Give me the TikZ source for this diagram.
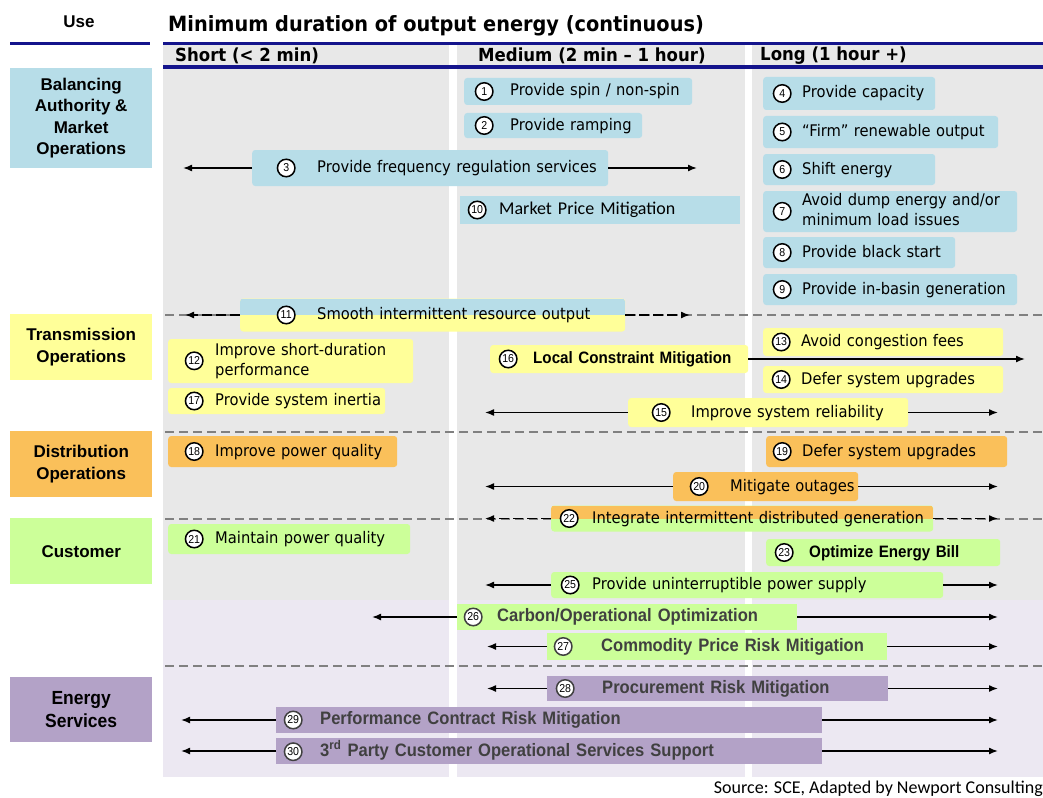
\documentclass[tikz,border=0pt]{standalone}
\usepackage{fontspec}
\setmainfont{Liberation Sans}
\newfontfamily\tahoma[FakeStretch=0.92]{DejaVu Sans}
\newfontfamily\narrowsans[FakeStretch=0.92]{Liberation Sans}
\newfontfamily\calib{Carlito}
\usepackage{tikz}
\usetikzlibrary{arrows.meta}

\definecolor{navy}{RGB}{20,20,140}
\definecolor{bablue}{RGB}{183,221,232}
\definecolor{tryellow}{RGB}{255,255,153}
\definecolor{diorange}{RGB}{250,192,90}
\definecolor{cugreen}{RGB}{204,255,153}
\definecolor{espurple}{RGB}{179,162,199}
\definecolor{bggrey}{RGB}{232,232,232}
\definecolor{bglav}{RGB}{236,232,242}
\definecolor{sepgrey}{RGB}{128,128,128}
\definecolor{darktext}{RGB}{64,64,64}

% circled number: left pad, number, gap
\newcommand{\cnum}[3]{\hspace*{#1pt}\tikz[baseline={([yshift=-4.5pt]c.center)}]\node[circle,draw,fill=white,line width=1.5pt,inner sep=0pt,minimum size=17.5pt,text=black,font=\narrowsans\mdseries\fontsize{11.5}{11.5}\selectfont] (c) {#2};\hspace{#3pt}}

\begin{document}
\begin{tikzpicture}[x=1pt, y=-1pt,
    cat/.style={fill=#1, anchor=north west, minimum width=142pt, align=center, font=\bfseries\fontsize{17}{21.5}\selectfont},
    itm/.style={fill=#1, rounded corners=3pt, anchor=west, inner xsep=0pt, inner ysep=0pt, align=left, font=\tahoma\fontsize{16}{20}\selectfont},
    split/.style={path picture={\fill[#1, sharp corners] (path picture bounding box.north west) rectangle (path picture bounding box.east);}},
    bold/.style={sharp corners, text=darktext, font=\narrowsans\bfseries\fontsize{18}{20}\selectfont},
    arr/.style={line width=1.5pt, -{Latex[length=9pt,width=7pt]}},
    darr/.style={arr, dash pattern=on 10pt off 4pt},
    sep/.style={sepgrey, line width=2pt, dash pattern=on 9pt off 5pt}]
    \useasboundingbox (0,0) rectangle (1043,797);

    % background and columns
    \fill[bggrey] (163,45) rectangle (1043,600);
    \fill[bglav] (163,600) rectangle (1043,777);
    \fill[white] (449,45) rectangle (457,777);
    \fill[white] (745,45) rectangle (752,777);
    \draw[navy, line width=3pt] (10,44) -- (150,44);
    \draw[navy, line width=3pt] (163,43.5) -- (1043,43.5);
    \draw[navy, line width=4pt] (163,67.5) -- (1043,67.5);
    \foreach \y in {315,432,518.5,666}
        \draw[sep] (165,\y) -- (1043,\y);

    % headings
    \node[font=\bfseries\fontsize{17}{20}\selectfont] (use) at (79,22) {Use};
    \node[anchor=west, inner sep=0pt, font=\tahoma\bfseries\fontsize{21}{24}\selectfont] (title) at (168,26) {Minimum duration of output energy (continuous)};
    \node[anchor=west, inner sep=0pt, font=\tahoma\bfseries\fontsize{18}{20}\selectfont] (short) at (175,56) {Short (< 2 min)};
    \node[anchor=west, inner sep=0pt, font=\tahoma\bfseries\fontsize{18}{20}\selectfont] (medium) at (478,56) {Medium (2 min – 1 hour)};
    \node[anchor=west, inner sep=0pt, font=\tahoma\bfseries\fontsize{18}{20}\selectfont] (long) at (760,56) {Long (1 hour +)};

    % uses
    \node[cat=bablue, minimum height=100pt] (ba) at (10,68) {Balancing\\Authority \&\\Market\\Operations};
    \node[cat=tryellow, minimum height=66pt] (tr) at (10,314) {Transmission\\Operations};
    \node[cat=diorange, minimum height=66pt] (di) at (10,431) {Distribution\\Operations};
    \node[cat=cugreen, minimum height=66pt] (cu) at (10,518) {Customer};
    \node[cat=espurple, minimum height=65pt, font=\narrowsans\bfseries\fontsize{19}{23}\selectfont] (es) at (10,677) {Energy\\Services};

    % balancing authority
    \node[itm=bablue, text width=228pt, minimum height=27pt] (i1) at (464,91.5) {\cnum{10.5}{1}{16.5}Provide spin / non-spin};
    \node[itm=bablue, text width=178pt, minimum height=25pt] (i2) at (464,125.5) {\cnum{10.5}{2}{16.5}Provide ramping};
    \node[itm=bablue, text width=356pt, minimum height=36pt] (i3) at (252,168) {\cnum{24.5}{3}{21.5}Provide frequency regulation services};
    \node[itm=bablue, text width=280pt, minimum height=28pt, sharp corners, font=\calib\fontsize{18}{20}\selectfont] (i10) at (460,210) {\cnum{7.5}{10}{12.5}Market Price Mitigation};
    \node[itm=bablue, text width=172pt, minimum height=33pt] (i4) at (763,93.5) {\cnum{9.5}{4}{10.5}Provide capacity};
    \node[itm=bablue, text width=235pt, minimum height=32pt] (i5) at (763,132) {\cnum{9.5}{5}{10.5}“Firm” renewable output};
    \node[itm=bablue, text width=172pt, minimum height=31pt] (i6) at (763,169.5) {\cnum{9.5}{6}{10.5}Shift energy};
    \node[itm=bablue, text width=254pt, minimum height=41pt] (i7) at (763,211.5) {\cnum{9.5}{7}{10.5}\begin{tabular}[c]{@{}l@{}}Avoid dump energy and/or\\minimum load issues\end{tabular}};
    \node[itm=bablue, text width=192pt, minimum height=31pt] (i8) at (763,252.5) {\cnum{9.5}{8}{10.5}Provide black start};
    \node[itm=bablue, text width=254pt, minimum height=31pt] (i9) at (763,289.5) {\cnum{9.5}{9}{10.5}Provide in-basin generation};
    \node[itm=tryellow, split=bablue, text width=385pt, minimum height=33pt] (i11) at (240,315) {\cnum{36.5}{11}{21.5}Smooth intermittent resource output};

    % transmission
    \node[itm=tryellow, text width=245pt, minimum height=44pt] (i12) at (168,361) {\cnum{16.5}{12}{11.5}\begin{tabular}[c]{@{}l@{}}Improve short-duration\\performance\end{tabular}};
    \node[itm=tryellow, text width=217pt, minimum height=26pt] (i17) at (168,401) {\cnum{16.5}{17}{11.5}Provide system inertia};
    \node[itm=tryellow, text width=258pt, minimum height=28pt, font=\narrowsans\bfseries\fontsize{16.5}{18}\selectfont] (i16) at (490,359) {\cnum{8.5}{16}{15.5}Local Constraint Mitigation};
    \node[itm=tryellow, text width=240pt, minimum height=28pt] (i13) at (763,342) {\cnum{8.5}{13}{10.5}Avoid congestion fees};
    \node[itm=tryellow, text width=240pt, minimum height=27pt] (i14) at (763,379.5) {\cnum{8.5}{14}{10.5}Defer system upgrades};
    \node[itm=tryellow, text width=280pt, minimum height=29pt] (i15) at (628,412.5) {\cnum{23.5}{15}{20.5}Improve system reliability};

    % distribution
    \node[itm=diorange, text width=229pt, minimum height=31pt] (i18) at (168,451.5) {\cnum{16.5}{18}{11.5}Improve power quality};
    \node[itm=diorange, text width=241pt, minimum height=31pt] (i19) at (766,451.5) {\cnum{6.5}{19}{10.5}Defer system upgrades};
    \node[itm=diorange, text width=185pt, minimum height=29pt] (i20) at (673,486.5) {\cnum{16.5}{20}{21.5}Mitigate outages};
    \node[itm=cugreen, split=diorange, text width=382pt, minimum height=26pt] (i22) at (551,518.5) {\cnum{8.5}{22}{13.5}Integrate intermittent distributed generation};

    % customer
    \node[itm=cugreen, text width=242pt, minimum height=30pt] (i21) at (168,539) {\cnum{16.5}{21}{11.5}Maintain power quality};
    \node[itm=cugreen, text width=234pt, minimum height=27pt, font=\narrowsans\bfseries\fontsize{16.5}{18}\selectfont] (i23) at (766,552.5) {\cnum{8.5}{23}{15.5}Optimize Energy Bill};
    \node[itm=cugreen, text width=392pt, minimum height=26pt] (i25) at (551,585) {\cnum{9.5}{25}{12.5}Provide uninterruptible power supply};
    \node[itm=cugreen, bold, text width=340pt, minimum height=26pt] (i26) at (457,617) {\cnum{6.5}{26}{14.5}Carbon/Operational Optimization};
    \node[itm=cugreen, bold, text width=340pt, minimum height=27pt] (i27) at (547,646.5) {\cnum{6.5}{27}{28.5}Commodity Price Risk Mitigation};

    % energy services
    \node[itm=espurple, bold, text width=341pt, minimum height=25pt] (i28) at (547,688.5) {\cnum{8.5}{28}{27.5}Procurement Risk Mitigation};
    \node[itm=espurple, bold, text width=546pt, minimum height=26pt] (i29) at (276,720) {\cnum{7.5}{29}{17.5}Performance Contract Risk Mitigation};
    \node[itm=espurple, bold, text width=546pt, minimum height=26pt] (i30) at (276,751) {\cnum{7.5}{30}{17.5}3\textsuperscript{rd} Party Customer Operational Services Support};

    \node[anchor=east, inner sep=0pt, font=\calib\fontsize{18}{20}\selectfont] (src) at (1043,789) {Source: SCE, Adapted by Newport Consulting};

    % arrow ends
    \coordinate (a3l) at (183,168);   \coordinate (a3r) at (697,168);
    \coordinate (a11l) at (185,315);  \coordinate (a11r) at (690,315);
    \coordinate (a16r) at (1025,359);
    \coordinate (a15l) at (485,412.5); \coordinate (a15r) at (998,412.5);
    \coordinate (a20l) at (485,486.5); \coordinate (a20r) at (998,486.5);
    \coordinate (a22l) at (485,518.5); \coordinate (a22r) at (998,518.5);
    \coordinate (a25l) at (485,585);   \coordinate (a25r) at (998,585);
    \coordinate (a26l) at (372,617);   \coordinate (a26r) at (998,617);
    \coordinate (a27l) at (487,646.5); \coordinate (a27r) at (998,646.5);
    \coordinate (a28l) at (487,688.5); \coordinate (a28r) at (998,688.5);
    \coordinate (a29l) at (181,720);   \coordinate (a29r) at (998,720);
    \coordinate (a30l) at (181,751);   \coordinate (a30r) at (998,751);

    \draw[arr] (i3) -- (a3l);   \draw[arr] (i3) -- (a3r);
    \draw[darr] (i11) -- (a11l); \draw[darr] (i11) -- (a11r);
    \draw[arr] (i16) -- (a16r);
    \draw[arr] (i15) -- (a15l); \draw[arr] (i15) -- (a15r);
    \draw[arr] (i20) -- (a20l); \draw[arr] (i20) -- (a20r);
    \draw[darr] (i22) -- (a22l); \draw[darr] (i22) -- (a22r);
    \draw[arr] (i25) -- (a25l); \draw[arr] (i25) -- (a25r);
    \draw[arr] (i26) -- (a26l); \draw[arr] (i26) -- (a26r);
    \draw[arr] (i27) -- (a27l); \draw[arr] (i27) -- (a27r);
    \draw[arr] (i28) -- (a28l); \draw[arr] (i28) -- (a28r);
    \draw[arr] (i29) -- (a29l); \draw[arr] (i29) -- (a29r);
    \draw[arr] (i30) -- (a30l); \draw[arr] (i30) -- (a30r);
\end{tikzpicture}
\end{document}
